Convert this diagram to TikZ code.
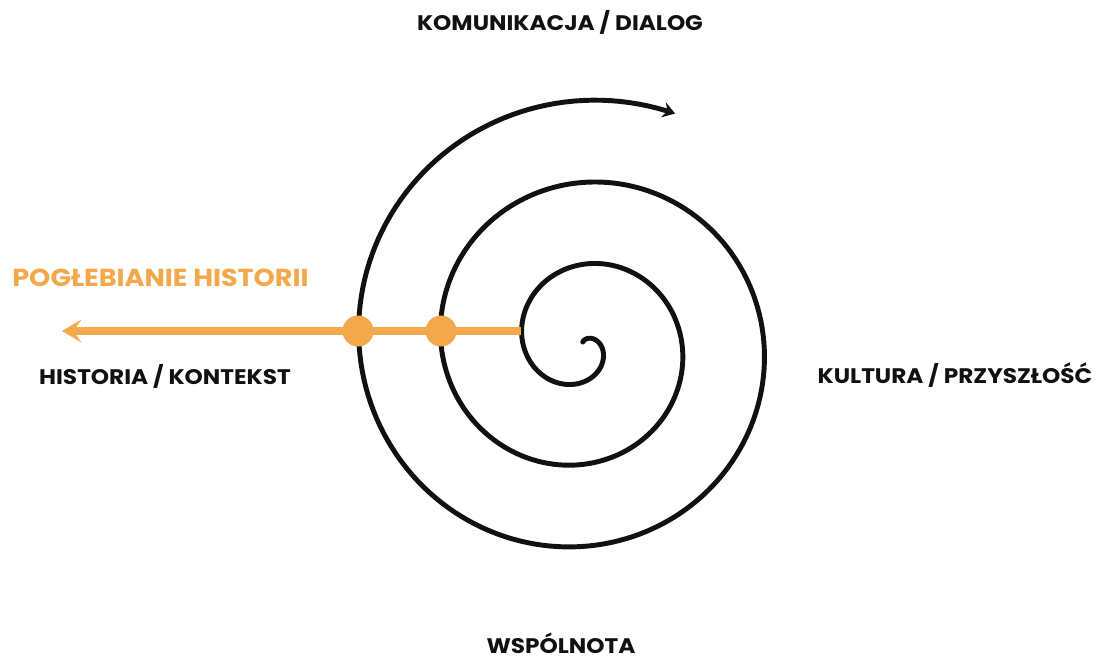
\documentclass[tikz,border=0pt]{standalone}
\usepackage{fontspec}
\setmainfont{Poppins}[FakeStretch=1.1]
\usepackage{tikz}
\usetikzlibrary{positioning,calc,arrows.meta}
\definecolor{histc}{HTML}{F2A84B}
\definecolor{inkc}{HTML}{111111}
\newcommand{\spiralr}[1]{(18+0.22778*(#1))}

\begin{document}
\begin{tikzpicture}[x=0.02cm, y=-0.02cm, font=\bfseries\fontsize{12}{14}\selectfont,
    lab/.style={text=inkc, inner sep=0pt, anchor=base},
    dot/.style={circle, fill=histc, minimum size=31*0.02cm, inner sep=0pt}]
  \useasboundingbox (0,0) rectangle (1099,659);
  \node[lab] (top) at (560,31) {KOMUNIKACJA / DIALOG};
  \node[lab] (left) at (165,384) {HISTORIA / KONTEKST};
  \node[lab] (right) at (955,383) {KULTURA / PRZYSZŁOŚĆ};
  \node[lab] (bottom) at (561,653) {WSPÓLNOTA};
  \node[lab, text=histc, anchor=base west, font=\bfseries\fontsize{14}{16}\selectfont] (deep) at (12,286.5) {POGŁEBIANIE HISTORII};
  \draw[inkc, line width=2.8pt, line cap=round, -{Stealth[length=7pt, width=9pt, inset=2.5pt]}]
    plot[domain=-70:1012, samples=500, variable=\t]
    ({582+\spiralr{\t}*cos(\t)}, {344+\spiralr{\t}*sin(\t)});
  \coordinate (inner) at (521,331);
  \coordinate (past) at (62,331);
  \draw[histc, line width=4pt, -{Stealth[length=11pt, width=13pt, inset=4.5pt]}] (inner) -- (past);
  \foreach \x [count=\i] in {358,441} \node[dot] (d\i) at (\x,331) {};
\end{tikzpicture}
\end{document}
